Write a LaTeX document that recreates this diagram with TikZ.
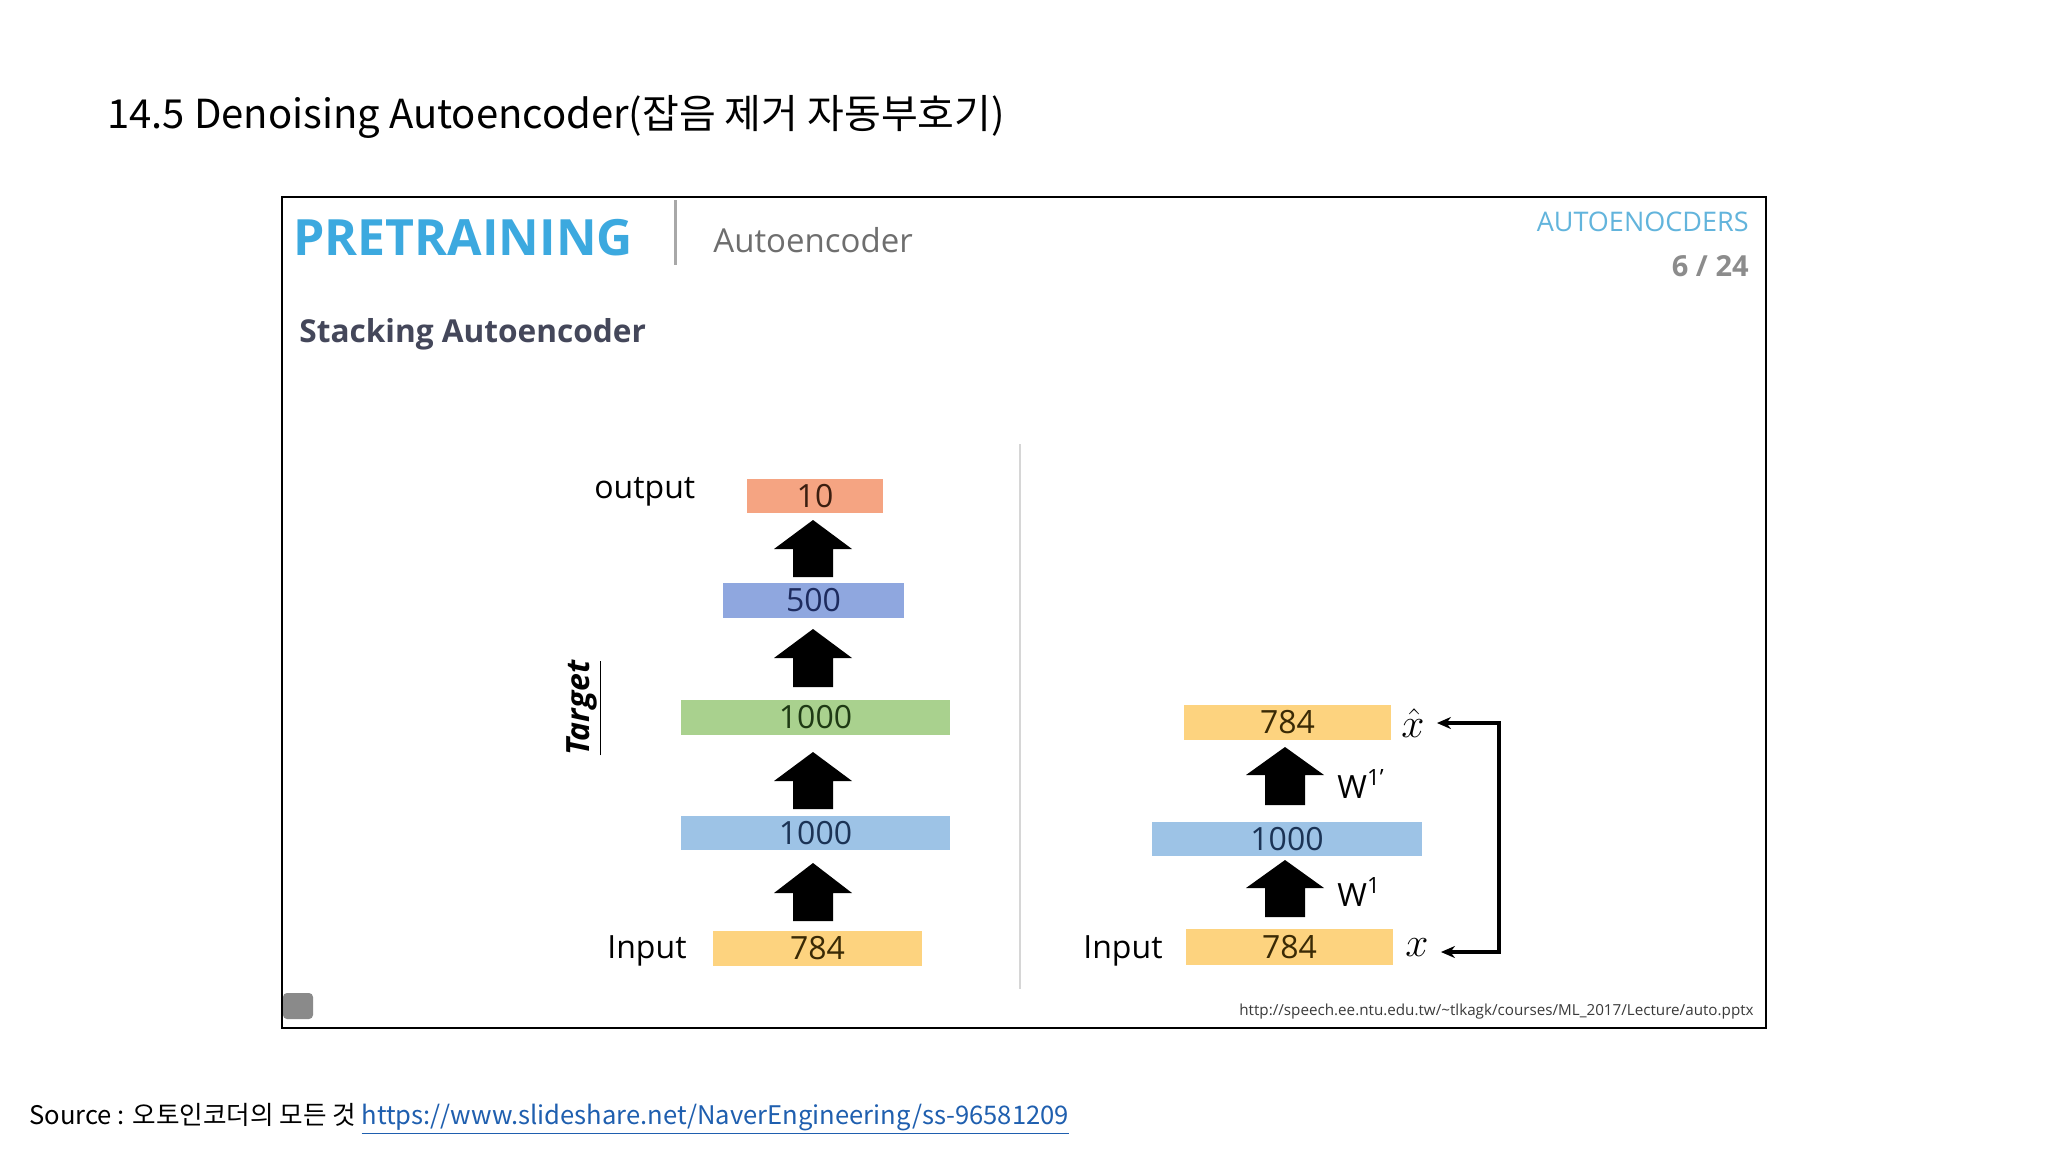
\documentclass[tikz,border=0pt]{standalone}
\usepackage{fontspec}
\setmainfont{Open Sans}
\newfontfamily\krfont{Noto Sans CJK KR}
\usetikzlibrary{arrows.meta,calc}
\definecolor{pretrain}{HTML}{3CA9DF}
\definecolor{lightblue}{HTML}{62B4DC}
\definecolor{autogray}{HTML}{6E6E6E}
\definecolor{pagegray}{HTML}{8C8C8C}
\definecolor{stackgray}{HTML}{44475A}
\definecolor{cten}{HTML}{F5A482}
\definecolor{tten}{HTML}{3B1E10}
\definecolor{cfive}{HTML}{8FA7DF}
\definecolor{tfive}{HTML}{1D2B5E}
\definecolor{cgreen}{HTML}{A9D18E}
\definecolor{tgreen}{HTML}{1E3A14}
\definecolor{cblue}{HTML}{9DC3E6}
\definecolor{tblue}{HTML}{1B3355}
\definecolor{cyel}{HTML}{FDD37F}
\definecolor{tyel}{HTML}{3A2A05}
\definecolor{divgray}{HTML}{D6D6D6}
\definecolor{sepgray}{HTML}{A8A8A8}
\definecolor{linkblue}{HTML}{1F5FAF}
\definecolor{urlgray}{HTML}{3A3A3A}
\definecolor{boxgray}{HTML}{8A8A8A}
\newcommand\blockup[4]{\fill (#1-39,#3) -- (#1,#2) -- (#1+39,#3) -- (#1+20,#3) -- (#1+20,#4) -- (#1-20,#4) -- (#1-20,#3) -- cycle;}
\begin{document}
\begin{tikzpicture}[x=0.5pt,y=-0.5pt,
  layer/.style={inner sep=0pt, font=\fontsize{16}{18}\selectfont},
  lbl/.style={inner sep=0pt, anchor=base west, font=\fontsize{16}{18}\selectfont},
  fb/.style={line width=1.6pt, {Stealth[length=7pt,width=6pt]}-{Stealth[length=7pt,width=6pt]}}]
\useasboundingbox (0,0) rectangle (2048,1152);
\fill[white] (0,0) rectangle (2048,1152);

% page title
\node[anchor=base west, inner sep=0pt, font=\krfont\fontsize{20}{24}\selectfont] (title) at (107,128) {14.5 Denoising Autoencoder(잡음 제거 자동부호기)};

% slide frame
\draw[line width=1pt] (282,197) rectangle (1766,1028);

% slide header
\node[anchor=base west, inner sep=0pt, font=\bfseries\fontsize{25}{28}\selectfont, text=pretrain] (pre) at (293,255) {PRETRAINING};
\draw[sepgray, line width=1.5pt] (675,200) -- (675,265);
\node[anchor=base west, inner sep=0pt, font=\fontsize{16.5}{20}\selectfont, text=autogray] (sub) at (713,252) {Autoencoder};
\node[anchor=base east, inner sep=0pt, font=\fontsize{13.5}{16}\selectfont, text=lightblue] (topic) at (1749,231) {AUTOENOCDERS};
\node[anchor=base east, inner sep=0pt, font=\bfseries\fontsize{14.5}{17}\selectfont, text=pagegray] (page) at (1749,276) {6 / 24};
\node[anchor=base west, inner sep=0pt, font=\bfseries\fontsize{15.8}{19}\selectfont, text=stackgray] (stack) at (299,342) {Stacking Autoencoder};

% divider
\draw[divgray, line width=0.8pt] (1020,444) -- (1020,989);

% left stack
\node[layer, fill=cten, text=tten, minimum width=68pt, minimum height=17pt] (L10) at (815,496) {10};
\node[layer, fill=cfive, text=tfive, minimum width=90.5pt, minimum height=17.5pt] (L500) at (813.5,600.5) {500};
\node[layer, fill=cgreen, text=tgreen, minimum width=134.5pt, minimum height=17.5pt] (Lg) at (815.5,717.5) {1000};
\node[layer, fill=cblue, text=tblue, minimum width=134.5pt, minimum height=17pt] (Lb) at (815.5,833) {1000};
\node[layer, fill=cyel, text=tyel, minimum width=104.5pt, minimum height=17.5pt] (L784) at (817.5,948.5) {784};
\blockup{813}{520}{549}{577}
\blockup{813}{629}{658}{687}
\blockup{813}{752}{781}{809}
\blockup{813}{863}{893}{921}
\node[lbl] (out) at (594,498) {output};
\node[lbl] (inL) at (607,958) {Input};
\node[rotate=90, inner sep=0pt, font=\bfseries\itshape\fontsize{16}{19}\selectfont] (target) at (584,708) {\underline{Target}};

% right stack
\node[layer, fill=cyel, text=tyel, minimum width=103.5pt, minimum height=17.5pt] (Rtop) at (1287.5,722.5) {784};
\node[layer, fill=cblue, text=tblue, minimum width=135pt, minimum height=17pt] (Rmid) at (1287,839) {1000};
\node[layer, fill=cyel, text=tyel, minimum width=103.5pt, minimum height=18pt] (Rbot) at (1289.5,947) {784};
\blockup{1285}{747}{775}{805}
\blockup{1285}{860}{888}{917}
\node[lbl] (w1p) at (1337,798) {W\textsuperscript{1’}};
\node[lbl] (w1) at (1337,906) {W\textsuperscript{1}};
\node[lbl] (inR) at (1083,958) {Input};
\node[inner sep=0pt, font=\fontsize{21}{25}\selectfont] (xhat) at (1413,723) {$\hat{x}$};
\node[inner sep=0pt, font=\fontsize{21}{25}\selectfont] (xin) at (1417,948) {$x$};
\coordinate (fbtop) at (1499,723);
\coordinate (fbbot) at (1499,952);
\draw[fb] ($(xhat.east)+(6pt,0)$) -- (xhat.east -| fbtop) -- (fbbot) -- ($(fbbot -| xin.east)+(6pt,0)$);

% footer of slide
\fill[boxgray, rounded corners=2pt] (283,993) rectangle (313,1019);
\node[anchor=east, inner sep=0pt, font=\fontsize{7.6}{9}\selectfont, text=urlgray] (url) at (1754,1012) {http://speech.ee.ntu.edu.tw/\textasciitilde tlkagk/courses/ML\_2017/Lecture/auto.pptx};

% source line
\node[anchor=base west, inner sep=0pt, font=\krfont\fontsize{12.8}{15}\selectfont] (src) at (29,1124) {Source : 오토인코더의 모든 것 \textcolor{linkblue}{\underline{https://www.slideshare.net/NaverEngineering/ss-96581209}}};
\end{tikzpicture}
\end{document}
